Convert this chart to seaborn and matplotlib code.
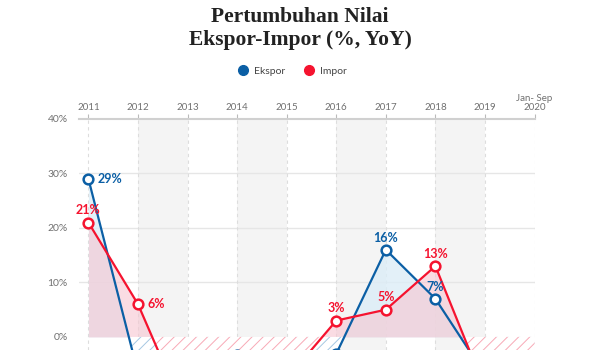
import matplotlib
matplotlib.use("Agg")
import matplotlib.pyplot as plt
from matplotlib.lines import Line2D
import numpy as np
import pandas as pd
import seaborn as sns

years = ["2011", "2012", "2013", "2014", "2015", "2016", "2017", "2018", "2019", "Jan- Sep\n2020"]
ekspor = [29, -6.6, -3.9, -3.4, -14.6, -3.1, 16, 7, -6.9, -5.1]
impor = [21, 6, -15, -4, -7.7, 3, 5, 13, -9.5, -18]
ekspor_labels = {0: "29%", 6: "16%", 7: "7%"}
impor_labels = {0: "21%", 1: "6%", 5: "3%", 6: "5%", 7: "13%"}

BLUE = "#0b5fa5"
RED = "#f5132f"

sns.set_style("white")
plt.rcParams["font.family"] = ["Lato", "DejaVu Sans"]
plt.rcParams["hatch.linewidth"] = 0.7

x = np.arange(len(years))
df = pd.DataFrame({
    "x": np.concatenate([x, x]),
    "val": ekspor + impor,
    "seri": ["Ekspor"] * len(x) + ["Impor"] * len(x),
})

fig = plt.figure(figsize=(6, 3.5), dpi=100)
ax = fig.add_axes([0.1317, 0.0, 0.76, 0.66])

# pita abu-abu selang-seling
for i in range(1, 9, 2):
    ax.axvspan(i, i + 1, color="#f4f4f4", zorder=0, lw=0)

for yv in [10, 20, 30]:
    ax.axhline(yv, color="#e6e6e6", lw=1, zorder=1)
for xi in x:
    ax.axvline(xi, color="#dddddd", lw=0.8, ls=(0, (3, 3)), zorder=1)

xf = np.linspace(0, 9, 2000)
ef = np.interp(xf, x, ekspor)
imf = np.interp(xf, x, impor)

ax.fill_between(xf, 0, np.maximum(ef, 0), color="#dcedf7", alpha=0.8, lw=0, zorder=2)
ax.fill_between(xf, 0, np.maximum(imf, 0), color="#f7c6d1", alpha=0.6, lw=0, zorder=2)

ax.fill_between(xf, 0, np.minimum(ef, 0), where=ef < 0, facecolor="white",
                edgecolor="#a6c8e2", hatch="///", lw=0, zorder=2)
ax.fill_between(xf, 0, np.minimum(imf, 0), where=imf < 0, facecolor="white",
                edgecolor="#f8a9b6", hatch="///", lw=0, zorder=2.1)

sns.lineplot(data=df, x="x", y="val", hue="seri", palette=[BLUE, RED],
             lw=1.6, legend=False, ax=ax, zorder=3)
ax.plot(x, ekspor, ls="none", marker="o", ms=7, mfc="white", mec=BLUE, mew=1.8, zorder=4)
ax.plot(x, impor, ls="none", marker="o", ms=7, mfc="white", mec=RED, mew=1.8, zorder=4)

lab_kw = dict(fontsize=9, fontweight="bold", zorder=5)
ax.annotate(ekspor_labels[0], (0, ekspor[0]), xytext=(6.5, 0), textcoords="offset points",
            color=BLUE, ha="left", va="center", **lab_kw)
for i in [6, 7]:
    ax.annotate(ekspor_labels[i], (i, ekspor[i]), xytext=(0, 4.5), textcoords="offset points",
                color=BLUE, ha="center", va="bottom", **lab_kw)
ax.annotate(impor_labels[1], (1, impor[1]), xytext=(6.5, 0), textcoords="offset points",
            color=RED, ha="left", va="center", **lab_kw)
ax.annotate(impor_labels[0], (0, impor[0]), xytext=(0, 4.5), textcoords="offset points",
            color=RED, ha="center", va="bottom", **lab_kw)
for i in [5, 6, 7]:
    ax.annotate(impor_labels[i], (i, impor[i]), xytext=(0, 4.5), textcoords="offset points",
                color=RED, ha="center", va="bottom", **lab_kw)

ax.set_xlim(-0.19, 9.01)
ax.set_ylim(-2.4, 40)
ax.set_yticks([0, 10, 20, 30, 40])
ax.set_yticklabels(["0%", "10%", "20%", "30%", "40%"])
ax.set_xticks(x)
ax.set_xticklabels(years, linespacing=1.05)
ax.xaxis.tick_top()
ax.tick_params(axis="x", length=3.5, width=0.8, color="#bbbbbb", colors="#707070",
               labelsize=7, pad=1.5)
ax.tick_params(axis="y", length=0, colors="#707070", labelsize=7.5, pad=8)
ax.set_xlabel("")
ax.set_ylabel("")
for s in ["bottom", "left", "right"]:
    ax.spines[s].set_visible(False)
ax.spines["top"].set_color("#d0d0d0")
ax.spines["top"].set_linewidth(1.5)

title_kw = dict(ha="center", va="baseline", fontsize=15.5, fontweight="bold",
                family="Liberation Serif", color="#222222")
fig.text(0.5, 1 - 22 / 350, "Pertumbuhan Nilai", **title_kw)
fig.text(0.5, 1 - 45.5 / 350, "Ekspor-Impor (%, YoY)", **title_kw)

handles = [Line2D([], [], ls="none", marker="o", ms=7, color=BLUE),
           Line2D([], [], ls="none", marker="o", ms=7, color=RED)]
fig.legend(handles, ["Ekspor", "Impor"], loc="center", bbox_to_anchor=(0.483, 0.797),
           ncol=2, frameon=False, fontsize=7.5, handletextpad=0.1, columnspacing=1.2,
           labelcolor="#444444")

fig.savefig("out.png", dpi=100)
